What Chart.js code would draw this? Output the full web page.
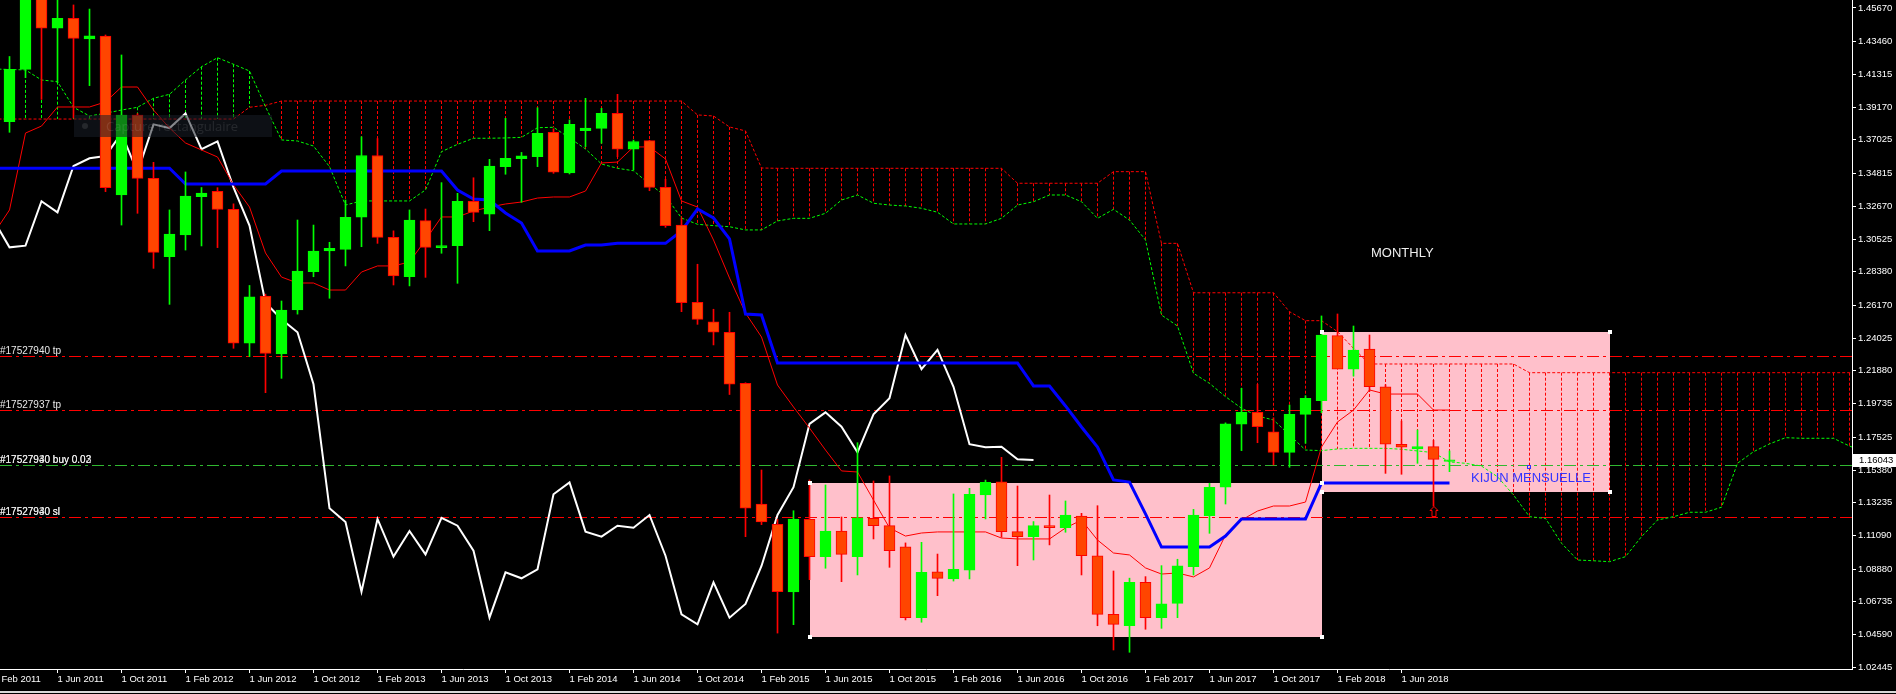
<!DOCTYPE html>
<html>
<head>
<meta charset="utf-8">
<script src="https://cdn.jsdelivr.net/npm/chart.js@4.4.1/dist/chart.umd.min.js"></script>
<style>
  html, body { margin: 0; padding: 0; background: #000; }
  canvas { display: block; background: #000; }
</style>
</head>
<body>
<canvas id="chart" width="1896" height="694"></canvas>
<script>
// EURUSD monthly, Feb 2011 .. Sep 2018
const months = [
  'Feb 2011','Mar 2011','Apr 2011','May 2011','Jun 2011','Jul 2011','Aug 2011','Sep 2011','Oct 2011','Nov 2011','Dec 2011',
  'Jan 2012','Feb 2012','Mar 2012','Apr 2012','May 2012','Jun 2012','Jul 2012','Aug 2012','Sep 2012','Oct 2012','Nov 2012','Dec 2012',
  'Jan 2013','Feb 2013','Mar 2013','Apr 2013','May 2013','Jun 2013','Jul 2013','Aug 2013','Sep 2013','Oct 2013','Nov 2013','Dec 2013',
  'Jan 2014','Feb 2014','Mar 2014','Apr 2014','May 2014','Jun 2014','Jul 2014','Aug 2014','Sep 2014','Oct 2014','Nov 2014','Dec 2014',
  'Jan 2015','Feb 2015','Mar 2015','Apr 2015','May 2015','Jun 2015','Jul 2015','Aug 2015','Sep 2015','Oct 2015','Nov 2015','Dec 2015',
  'Jan 2016','Feb 2016','Mar 2016','Apr 2016','May 2016','Jun 2016','Jul 2016','Aug 2016','Sep 2016','Oct 2016','Nov 2016','Dec 2016',
  'Jan 2017','Feb 2017','Mar 2017','Apr 2017','May 2017','Jun 2017','Jul 2017','Aug 2017','Sep 2017','Oct 2017','Nov 2017','Dec 2017',
  'Jan 2018','Feb 2018','Mar 2018','Apr 2018','May 2018','Jun 2018','Jul 2018','Aug 2018','Sep 2018'
];

const openP = [
  1.3680,1.3822,1.4165,1.4806,1.4434,1.4499,1.4364,1.4383,1.3341,1.3865,1.3450,
  1.2936,1.3079,1.3330,1.3365,1.3247,1.2369,1.2679,1.2299,1.2587,1.2838,1.2974,1.2985,
  1.3195,1.3600,1.3063,1.2805,1.3173,1.2996,1.3009,1.3300,1.3215,1.3527,1.3579,1.3592,
  1.3752,1.3485,1.3763,1.3778,1.3876,1.3641,1.3697,1.3391,1.3144,1.2638,1.2510,1.2441,
  1.2107,1.1315,1.1182,1.0738,1.1215,1.0970,1.1138,1.0970,1.1221,1.1173,1.1035,1.0570,
  1.0871,1.0824,1.0882,1.1374,1.1461,1.1134,1.1101,1.1173,1.1160,1.1236,1.0976,1.0592,
  1.0517,1.0802,1.0570,1.0664,1.0904,1.1239,1.1425,1.1838,1.1916,1.1789,1.1654,1.1903,
  1.1992,1.2419,1.2199,1.2331,1.2084,1.1707,1.1676,1.1691,1.1595
];
const highP = [
  1.3860,1.4249,1.4882,1.4940,1.4700,1.4587,1.4560,1.4390,1.4259,1.3875,1.3555,
  1.3243,1.3492,1.3390,1.3389,1.3283,1.2748,1.2691,1.2646,1.3177,1.3144,1.3031,1.3308,
  1.3723,1.3711,1.3106,1.3243,1.3249,1.3422,1.3352,1.3454,1.3575,1.3844,1.3620,1.3913,
  1.3775,1.3833,1.3975,1.3909,1.4001,1.3701,1.3700,1.3444,1.3191,1.2887,1.2592,1.2572,
  1.2110,1.1538,1.1215,1.1271,1.1473,1.1440,1.1230,1.1717,1.1466,1.1499,1.1060,1.1064,
  1.0987,1.1381,1.1418,1.1472,1.1621,1.1433,1.1200,1.1374,1.1335,1.1254,1.1304,1.0876,
  1.0829,1.0839,1.0911,1.0953,1.1280,1.1451,1.1847,1.2074,1.2100,1.1880,1.1964,1.2025,
  1.2548,1.2561,1.2482,1.2423,1.2097,1.1859,1.1800,1.1733,1.1663
];
const lowP = [
  1.3430,1.3752,1.4110,1.3968,1.4077,1.3846,1.4058,1.3363,1.3144,1.3221,1.2860,
  1.2624,1.2980,1.3007,1.2996,1.2336,1.2281,1.2045,1.2139,1.2560,1.2805,1.2664,1.2876,
  1.3002,1.3024,1.2751,1.2745,1.2801,1.2959,1.2762,1.3166,1.3107,1.3477,1.3293,1.3527,
  1.3483,1.3479,1.3658,1.3680,1.3592,1.3505,1.3369,1.3129,1.2576,1.2493,1.2358,1.2033,
  1.1101,1.1180,1.0469,1.0524,1.0819,1.0894,1.0806,1.0850,1.1086,1.0900,1.0555,1.0540,
  1.0714,1.0810,1.0824,1.1217,1.1097,1.0911,1.0948,1.1047,1.1130,1.0850,1.0517,1.0358,
  1.0343,1.0494,1.0500,1.0570,1.0850,1.1123,1.1315,1.1665,1.1717,1.1571,1.1556,1.1713,
  1.1914,1.2206,1.2154,1.2055,1.1516,1.1510,1.1582,1.1301,1.1527
];
const closeP = [
  1.3805,1.4165,1.4806,1.4434,1.4499,1.4368,1.4385,1.3389,1.3865,1.3450,1.2965,
  1.3085,1.3334,1.3354,1.3247,1.2369,1.2674,1.2303,1.2587,1.2843,1.2974,1.2992,1.3195,
  1.3600,1.3063,1.2810,1.3177,1.2998,1.3009,1.3300,1.3227,1.3531,1.3582,1.3597,1.3746,
  1.3490,1.3804,1.3780,1.3876,1.3641,1.3692,1.3391,1.3140,1.2635,1.2526,1.2441,1.2100,
  1.1287,1.1197,1.0740,1.1217,1.0970,1.1138,1.0985,1.1225,1.1173,1.1009,1.0570,1.0867,
  1.0828,1.0887,1.1379,1.1457,1.1134,1.1101,1.1173,1.1160,1.1243,1.0976,1.0592,1.0526,
  1.0802,1.0570,1.0660,1.0909,1.1243,1.1425,1.1840,1.1916,1.1822,1.1654,1.1903,1.2008,
  1.2423,1.2199,1.2325,1.2084,1.1707,1.1687,1.1691,1.1608,1.1604
];

// Ichimoku lines
const tenkan = [
  1.3085,1.3243,1.3747,1.3793,1.3918,1.3918,1.3918,1.3951,1.4049,1.4049,1.3898,
  1.3780,1.3682,1.3636,1.3590,1.3407,1.3262,1.2961,1.2803,1.2764,1.2764,1.2718,1.2718,
  1.2836,1.2876,1.2876,1.2902,1.3046,1.3197,1.3197,1.3236,1.3262,1.3282,1.3295,1.3321,
  1.3328,1.3328,1.3367,1.3551,1.3557,1.3656,1.3656,1.3577,1.3302,1.3262,1.3046,1.2797,
  1.2567,1.2410,1.2095,1.1951,1.1813,1.1669,1.1532,1.1525,1.1341,1.1158,1.1105,1.1125,
  1.1132,1.1132,1.1132,1.1132,1.1092,1.1086,1.1086,1.1086,1.1158,1.1210,1.1079,1.0994,
  1.0981,1.0896,1.0856,1.0863,1.0837,1.0896,1.1112,1.1210,1.1269,1.1302,1.1302,1.1328,
  1.1689,1.1853,1.1931,1.2063,1.2036,1.2036,1.2036,1.1931,1.1931
];
const kijun = [
  1.3516,1.3516,1.3516,1.3516,1.3516,1.3516,1.3516,1.3516,1.3516,1.3516,1.3516,
  1.3516,1.3413,1.3413,1.3413,1.3413,1.3413,1.3413,1.3498,1.3498,1.3498,1.3498,1.3498,
  1.3498,1.3498,1.3498,1.3498,1.3498,1.3498,1.3374,1.3315,1.3308,1.3223,1.3157,1.2974,
  1.2974,1.2974,1.3013,1.3013,1.3024,1.3024,1.3024,1.3024,1.3105,1.3249,1.3190,1.3053,
  1.2561,1.2554,1.2240,1.2240,1.2240,1.2240,1.2240,1.2240,1.2240,1.2240,1.2240,1.2240,
  1.2240,1.2240,1.2240,1.2240,1.2240,1.2240,1.2089,1.2089,1.1958,1.1820,1.1689,1.1473,
  1.1459,1.1250,1.1033,1.1033,1.1033,1.1033,1.1105,1.1217,1.1217,1.1217,1.1217,1.1217,
  1.1453,1.1453,1.1453,1.1453,1.1453,1.1453,1.1453,1.1453,1.1453
];
// senkou spans, already plotted 26 bars ahead (118 points)
const spanA = [
  1.4167,1.4164,1.4161,1.4095,1.4084,1.3916,1.3859,1.3877,1.3898,1.3916,1.3975,
  1.4001,1.4095,1.4182,1.4241,1.4198,1.4154,1.3920,1.3702,1.3695,1.3662,1.3527,1.3275,
  1.3302,1.3302,1.3302,1.3302,1.3374,1.3625,1.3673,1.3713,1.3713,1.3715,1.3719,1.3782,
  1.3785,1.3715,1.3643,1.3544,1.3516,1.3500,1.3413,1.3334,1.3190,1.3149,1.3140,1.3133,
  1.3112,1.3112,1.3171,1.3188,1.3188,1.3221,1.3308,1.3341,1.3287,1.3275,1.3269,1.3254,
  1.3228,1.3151,1.3151,1.3151,1.3188,1.3275,1.3297,1.3341,1.3341,1.3297,1.3188,1.3247,
  1.3177,1.3046,1.2554,1.2482,1.2172,1.2106,1.2019,1.1943,1.1892,1.1866,1.1768,1.1669,
  1.1665,1.1676,1.1680,1.1680,1.1680,1.1674,1.1663,1.1652,1.1591,
  1.1582,1.1564,1.1494,1.1374,1.1232,1.1221,1.1058,1.0948,1.0943,1.0937,1.0970,1.1101,1.1210,
  1.1232,1.1261,1.1261,1.1294,1.1582,1.1658,1.1709,1.1750,1.1746,1.1746,1.1746,1.1695,1.1656
];
const spanB = [
  1.3839,1.3839,1.3839,1.3839,1.3839,1.3839,1.3839,1.3839,1.3839,1.3839,1.3839,
  1.3839,1.3839,1.3839,1.3839,1.3839,1.3916,1.3929,1.3957,1.3957,1.3957,1.3957,1.3957,
  1.3957,1.3957,1.3957,1.3957,1.3957,1.3957,1.3957,1.3957,1.3957,1.3957,1.3957,1.3957,
  1.3957,1.3957,1.3957,1.3957,1.3957,1.3957,1.3957,1.3957,1.3957,1.3866,1.3859,1.3787,
  1.3761,1.3518,1.3516,1.3516,1.3516,1.3516,1.3516,1.3516,1.3516,1.3516,1.3516,1.3516,
  1.3516,1.3516,1.3516,1.3516,1.3516,1.3418,1.3418,1.3418,1.3418,1.3418,1.3418,1.3494,
  1.3494,1.3494,1.3024,1.3024,1.2700,1.2700,1.2700,1.2700,1.2700,1.2700,1.2576,1.2517,
  1.2517,1.2445,1.2336,1.2233,1.2233,1.2233,1.2233,1.2233,1.2233,
  1.2233,1.2233,1.2233,1.2233,1.2176,1.2176,1.2176,1.2176,1.2176,1.2176,1.2176,1.2176,1.2176,
  1.2176,1.2176,1.2176,1.2176,1.2176,1.2176,1.2176,1.2176,1.2176,1.2176,1.2176,1.2176,1.2176
];
const chikouShift = 26;

const priceTicks = [1.45670,1.43460,1.41315,1.39170,1.37025,1.34815,1.32670,1.30525,1.28380,1.26170,1.24025,
  1.21880,1.19735,1.17525,1.15380,1.13235,1.11090,1.08880,1.06735,1.04590,1.02445];
const tickPos = [0,4,8,12,16,20,24,28,32,36,40,44,48,52,56,60,64,68,72,76,80,84,88];
const tickLabels = ['1 Feb 2011','1 Jun 2011','1 Oct 2011','1 Feb 2012','1 Jun 2012','1 Oct 2012','1 Feb 2013',
  '1 Jun 2013','1 Oct 2013','1 Feb 2014','1 Jun 2014','1 Oct 2014','1 Feb 2015','1 Jun 2015','1 Oct 2015',
  '1 Feb 2016','1 Jun 2016','1 Oct 2016','1 Feb 2017','1 Jun 2017','1 Oct 2017','1 Feb 2018','1 Jun 2018'];

// trade lines
const orderPrices = [1.22855, 1.19295, 1.15689, 1.12280];
const orderNames = ['#17527940 tp', '#17527937 tp', '#17527940 buy 0.02', '#17527940 sl'];
const orderGhost = ['', '', '#17527930 buy 0.03', '#17527930 sl'];

// pink rectangles (bar position / price)
const boxFrom = [51, 83];
const boxTo = [83, 101];
const boxHigh = [1.14528, 1.24428];
const boxLow = [1.04452, 1.13919];

const currentPrice = 1.16043;
const arrowBar = 90;

Chart.defaults.font.family = "'Liberation Sans', Arial, sans-serif";
Chart.defaults.color = '#ffffff';

const up = closeP.map((c, i) => c >= openP[i]);

const overlay = {
  id: 'overlay',
  beforeDatasetsDraw(chart) {
    const { ctx, chartArea: a, scales: { x, y } } = chart;
    ctx.save();
    ctx.beginPath();
    ctx.rect(a.left, a.top, a.width, a.height);
    ctx.clip();

    ctx.fillStyle = '#ffc0cb';
    boxFrom.forEach((f, k) => {
      const x0 = Math.round(x.getPixelForValue(f)), x1 = Math.round(x.getPixelForValue(boxTo[k]));
      const y0 = Math.round(y.getPixelForValue(boxHigh[k])), y1 = Math.round(y.getPixelForValue(boxLow[k]));
      ctx.fillRect(x0, y0, x1 - x0, y1 - y0);
    });

    // cloud hatching
    ctx.lineWidth = 1;
    ctx.setLineDash([3, 2]);
    spanA.forEach((va, i) => {
      const vb = spanB[i];
      const px = x.getPixelForValue(i);
      ctx.strokeStyle = va > vb ? '#00ff00' : '#ff0000';
      ctx.beginPath();
      ctx.moveTo(px, y.getPixelForValue(Math.max(va, vb)));
      ctx.lineTo(px, y.getPixelForValue(Math.min(va, vb)));
      ctx.stroke();
    });

    ctx.setLineDash([12, 4, 3, 4]);
    orderPrices.forEach((p, k) => {
      const py = Math.round(y.getPixelForValue(p)) + 0.5;
      ctx.strokeStyle = orderNames[k].includes('buy') ? '#30b830' : '#ff0000';
      ctx.beginPath();
      ctx.moveTo(a.left, py);
      ctx.lineTo(a.right, py);
      ctx.stroke();
    });
    ctx.restore();
  },
  afterDatasetsDraw(chart) {
    const { ctx, chartArea: a, scales: { x, y } } = chart;
    ctx.save();
    ctx.beginPath();
    ctx.rect(a.left, a.top, a.width, a.height);
    ctx.clip();

    ctx.font = "10px 'Liberation Sans', Arial";
    ctx.textBaseline = 'alphabetic';
    ctx.fillStyle = '#e8e8e8';
    orderPrices.forEach((p, k) => {
      const py = Math.round(y.getPixelForValue(p)) - 2;
      ctx.fillText(orderNames[k], 0, py);
      if (orderGhost[k]) ctx.fillText(orderGhost[k], 0, py);
    });

    // rectangle handles
    ctx.fillStyle = '#ffffff';
    boxFrom.forEach((f, k) => {
      const xs = [x.getPixelForValue(f), x.getPixelForValue(boxTo[k])];
      const ys = [y.getPixelForValue(boxHigh[k]), y.getPixelForValue(boxLow[k])];
      xs.forEach(px => ys.forEach(py => ctx.fillRect(Math.round(px) - 2, Math.round(py) - 2, 4, 4)));
    });

    // buy arrow under the August 2018 low
    const ax = x.getPixelForValue(arrowBar) + 0.5, ay = Math.round(y.getPixelForValue(lowP[arrowBar])) + 0.5;
    ctx.strokeStyle = '#ff0000';
    ctx.lineWidth = 1;
    ctx.beginPath();
    ctx.moveTo(ax, ay);
    ctx.lineTo(ax + 4, ay + 4);
    ctx.lineTo(ax + 2, ay + 4);
    ctx.lineTo(ax + 2, ay + 10);
    ctx.lineTo(ax - 2, ay + 10);
    ctx.lineTo(ax - 2, ay + 4);
    ctx.lineTo(ax - 4, ay + 4);
    ctx.closePath();
    ctx.stroke();

    ctx.font = "13px 'Liberation Sans', Arial";
    ctx.fillStyle = '#eeeeee';
    ctx.fillText('MONTHLY', 1371, 257);
    ctx.fillStyle = '#3333ff';
    ctx.fillText('KIJUN MENSUELLE', 1471, 482);
    ctx.strokeStyle = '#3333ff';
    ctx.strokeRect(1527.5, 465.5, 3, 3);

    // screen-capture tool overlay left in the screenshot
    ctx.fillStyle = 'rgba(24, 30, 38, 0.55)';
    ctx.fillRect(74, 115, 198, 22);
    ctx.fillStyle = 'rgba(255, 255, 255, 0.10)';
    ctx.beginPath();
    ctx.arc(85, 126, 3, 0, Math.PI * 2);
    ctx.fill();
    ctx.font = "13px 'Open Sans', sans-serif";
    ctx.fillText('Capture rectangulaire', 106, 131);
    ctx.restore();
  },
  afterDraw(chart) {
    const { ctx, chartArea: a, scales: { y } } = chart;
    ctx.save();
    const py = y.getPixelForValue(currentPrice);
    ctx.fillStyle = '#ffffff';
    ctx.fillRect(a.right + 1, Math.round(py) - 6, 44, 13);
    ctx.fillStyle = '#000000';
    ctx.font = "9.5px 'Liberation Sans', Arial";
    ctx.textBaseline = 'middle';
    ctx.fillText(currentPrice.toFixed(5), a.right + 7, Math.round(py) + 0.5);
    ctx.fillStyle = '#d8d8d8';
    ctx.fillRect(0, 691, chart.width, 2);
    ctx.restore();
  }
};

new Chart(document.getElementById('chart'), {
  type: 'line',
  data: {
    datasets: [
      {
        type: 'bar', label: 'body', order: 0, grouped: false, barThickness: 11,
        data: months.map((m, i) => ({ x: i, y: [openP[i], closeP[i]] })),
        backgroundColor: up.map(u => u ? '#00ff00' : '#ff4500'),
        borderColor: up.map(u => u ? '#00ff00' : '#ff0000'),
        borderWidth: 1, borderSkipped: false
      },
      {
        type: 'bar', label: 'wick', order: 1, grouped: false, barThickness: 1,
        data: months.map((m, i) => ({ x: i, y: [lowP[i], highP[i]] })),
        backgroundColor: up.map(u => u ? '#00ff00' : '#ff0000'),
        borderWidth: 0
      },
      {
        label: 'Kijun', order: 2,
        data: kijun.map((v, i) => ({ x: i, y: v })),
        borderColor: '#0000ff', borderWidth: 3, pointRadius: 0
      },
      {
        label: 'Tenkan', order: 3,
        data: tenkan.map((v, i) => ({ x: i, y: v })),
        borderColor: '#ff0000', borderWidth: 1, pointRadius: 0
      },
      {
        label: 'Chikou', order: 4,
        data: closeP.slice(chikouShift).map((v, i) => ({ x: i, y: v })),
        borderColor: '#ffffff', borderWidth: 2, pointRadius: 0
      },
      {
        label: 'Senkou A', order: 5,
        data: spanA.map((v, i) => ({ x: i, y: v })),
        borderColor: '#00ff00', borderWidth: 1, borderDash: [3, 2], pointRadius: 0
      },
      {
        label: 'Senkou B', order: 6,
        data: spanB.map((v, i) => ({ x: i, y: v })),
        borderColor: '#ff0000', borderWidth: 1, borderDash: [3, 2], pointRadius: 0
      }
    ]
  },
  options: {
    responsive: false,
    animation: false,
    events: [],
    layout: { padding: 0 },
    plugins: { legend: { display: false }, tooltip: { enabled: false } },
    scales: {
      x: {
        type: 'linear', min: 0.40625, max: 116.15625, offset: false,
        grid: { drawOnChartArea: false, drawTicks: true, tickLength: 4, color: '#ffffff', offset: false },
        border: { display: true, color: '#ffffff', width: 1 },
        ticks: {
          autoSkip: false, maxRotation: 0, minRotation: 0, align: 'start', padding: 1,
          color: '#ffffff', font: { size: 9.5 },
          callback: v => tickLabels[tickPos.indexOf(v)] || ''
        },
        afterBuildTicks: s => { s.ticks = tickPos.map(v => ({ value: v })); },
        afterFit: s => { s.height = 25; s.paddingLeft = 0; s.paddingRight = 0; }
      },
      y: {
        type: 'linear', position: 'right', min: 1.02334, max: 1.46194,
        grid: { drawOnChartArea: false, drawTicks: true, tickLength: 4, color: '#ffffff' },
        border: { display: true, color: '#ffffff', width: 1 },
        ticks: { padding: 2, color: '#ffffff', font: { size: 9.5 }, callback: v => v.toFixed(5) },
        afterBuildTicks: s => { s.ticks = priceTicks.map(v => ({ value: v })); },
        afterFit: s => { s.width = 44; s.paddingTop = 0; s.paddingBottom = 0; }
      }
    }
  },
  plugins: [overlay]
});
</script>
</body>
</html>
